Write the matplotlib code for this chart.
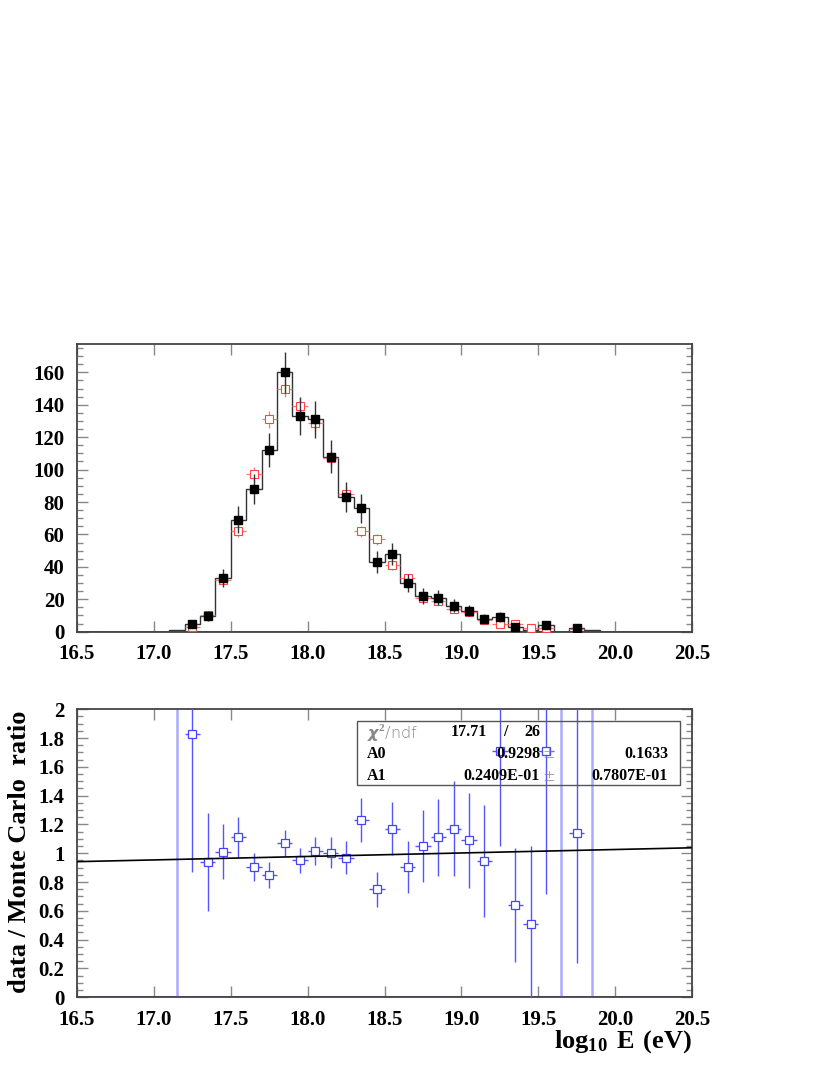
import numpy as np
import matplotlib
matplotlib.use('Agg')
import matplotlib.pyplot as plt
from matplotlib.ticker import MultipleLocator, FuncFormatter
from matplotlib.patches import Rectangle

plt.rcParams['font.family'] = ['Liberation Serif', 'DejaVu Serif']
plt.rcParams['font.weight'] = 'bold'
plt.rcParams['mathtext.fontset'] = 'custom'
plt.rcParams['mathtext.rm'] = 'Liberation Serif:bold'
plt.rcParams['mathtext.it'] = 'DejaVu Sans:italic'

# bins of log10 E, width 0.1, from 17.0 to 20.0
bin_edges = np.round(np.arange(17.0, 20.01, 0.1), 2)
bin_centers = np.round(bin_edges[:-1] + 0.05, 2)

# data (black) and Monte Carlo (red) counts
data_counts = [0, 1, 5, 9.5, 33, 69, 88, 112, 160, 133, 131, 108, 83, 76, 43,
               48, 30, 22, 21, 16, 13, 8, 9, 3, 1, 4, 0, 2, 1, 0]
data_err = [0, 1, 2.2, 3.1, 5.7, 8.3, 9.4, 10.6, 12.6, 11.5, 11.4, 10.4, 9.1,
            8.7, 6.6, 6.9, 5.5, 4.7, 4.6, 4.0, 3.6, 2.8, 3.0, 1.7, 1.0, 2.0,
            0, 1.4, 1.0, 0]
mc_counts = [0, 0.5, 3, 10, 32, 62, 97, 131, 150, 139, 129, 107, 85, 62, 57,
             41, 33, 21, 19, 14, 12, 7.5, 5, 4.5, 2.3, 2.5, 1, 1.5, 0.7, 0]
mc_err = [0, 0.3, 0.8, 1.4, 2.5, 3.5, 4.4, 5.1, 5.5, 5.3, 5.1, 4.6, 4.1, 3.5,
          3.4, 2.9, 2.6, 2.1, 2.0, 1.7, 1.6, 1.2, 1.0, 0.9, 0.7, 0.7, 0.4,
          0.5, 0.4, 0]

# data / Monte Carlo ratio
ratio_x = [17.25, 17.35, 17.45, 17.55, 17.65, 17.75, 17.85, 17.95, 18.05,
           18.15, 18.25, 18.35, 18.45, 18.55, 18.65, 18.75, 18.85, 18.95,
           19.05, 19.15, 19.25, 19.35, 19.45, 19.55, 19.75]
ratio_y = [1.83, 0.94, 1.01, 1.11, 0.905, 0.85, 1.07, 0.95, 1.015, 1.005,
           0.97, 1.23, 0.75, 1.17, 0.905, 1.05, 1.11, 1.17, 1.09, 0.945,
           1.71, 0.64, 0.51, 1.71, 1.14]
ratio_err = [0.96, 0.34, 0.19, 0.14, 0.10, 0.09, 0.09, 0.09, 0.095, 0.105,
             0.115, 0.155, 0.12, 0.185, 0.18, 0.25, 0.265, 0.33, 0.33, 0.39,
             0.66, 0.395, 0.54, 0.99, 0.9]
# bins where the ratio is off scale
ratio_off_x = [17.15, 19.65, 19.85]
ratio_off_y = [3.0, 3.0, 3.0]
ratio_off_err = [3.2, 3.2, 3.2]

fit_a0, fit_a1, fit_x0 = 0.9298, 0.02409, 16.0
chi2, ndf = 17.71, 26

fig = plt.figure(figsize=(8.3, 10.75), dpi=100)
ax1 = fig.add_axes([0.0928, 0.4124, 0.741, 0.2676])
ax2 = fig.add_axes([0.0928, 0.0723, 0.741, 0.2679])

# top panel
ax1.axhline(0, color='#dd2222', lw=1.3, zorder=1)
ax1.stairs(data_counts, bin_edges, color='#333333', lw=1.0, zorder=2)
mc = np.array(mc_counts, dtype=float)
mm = mc >= 1.5
ax1.errorbar(bin_centers[mm], mc[mm], yerr=np.array(mc_err)[mm], xerr=0.05,
             fmt='none', ecolor='#ff7777', elinewidth=0.9, capsize=0, zorder=3)
ax1.plot(bin_centers[mm], mc[mm], 's', mfc='white', mec='#ff4444', ms=5.5,
         mew=0.8, zorder=4)
dc = np.array(data_counts, dtype=float)
m = dc >= 1.5
ax1.errorbar(bin_centers[m], dc[m], yerr=np.array(data_err)[m], fmt='s',
             color='black', ms=5.5, ecolor='#333333', elinewidth=1.0,
             capsize=0, zorder=5)
ax1.set_xlim(16.5, 20.5)
ax1.set_ylim(0, 177.5)
ax1.yaxis.set_major_locator(MultipleLocator(20))
ax1.yaxis.set_minor_locator(MultipleLocator(5))

# bottom panel
ax2.axhline(0, color='#8888ff', lw=1.5, zorder=1)
ax2.errorbar(ratio_off_x, ratio_off_y, yerr=ratio_off_err, fmt='none',
             ecolor='#aaaaff', elinewidth=1.8, capsize=0, zorder=2)
ax2.errorbar(ratio_x, ratio_y, yerr=ratio_err, xerr=0.05, fmt='none',
             ecolor='#5555ff', elinewidth=1.0, capsize=0, zorder=3)
ax2.plot(ratio_x, ratio_y, 's', mfc='white', mec='#4444ff', ms=5.5, mew=0.9,
         zorder=4)
xf = np.linspace(16.5, 20.5, 50)
ax2.plot(xf, fit_a0 + fit_a1 * (xf - fit_x0), color='black', lw=1.2, zorder=5)
ax2.set_xlim(16.5, 20.5)
ax2.set_ylim(0, 2)
ax2.yaxis.set_major_locator(MultipleLocator(0.2))
ax2.yaxis.set_minor_locator(MultipleLocator(0.05))
ax2.yaxis.set_major_formatter(FuncFormatter(lambda v, p: '%g' % round(v, 2)))

for ax in (ax1, ax2):
    ax.xaxis.set_major_locator(MultipleLocator(0.5))
    ax.xaxis.set_major_formatter(FuncFormatter(lambda v, p: '%.1f' % v))
    ax.tick_params(which='both', direction='in', top=True, right=True,
                   color='#888888', labelsize=15)
    ax.tick_params(which='major', length=8, width=1.0)
    ax.tick_params(which='minor', length=4, width=1.0)
    ax.tick_params(axis='x', pad=9)
    ax.tick_params(axis='y', pad=9)
    for lab in ax.get_xticklabels() + ax.get_yticklabels():
        lab.set_fontweight('bold')
    for sp in ax.spines.values():
        sp.set_color('#444444')
        sp.set_linewidth(1.3)

# fit statistics box
ax2.add_patch(Rectangle((0.455, 0.737), 0.525, 0.222, transform=ax2.transAxes,
                        fill=False, ec='#555555', lw=1.0, zorder=6))
ax2.text(0.471, 0.921, r'$\chi^2$/ndf', transform=ax2.transAxes,
         family='DejaVu Sans', weight='light', color='#888888', fontsize=11.5,
         va='center', zorder=7)
ax2.text(0.666, 0.921, '%.2f' % chi2, transform=ax2.transAxes, ha='right',
         va='center', fontsize=11.5, weight='bold', zorder=7)
ax2.text(0.696, 0.921, '/', transform=ax2.transAxes, ha='center',
         va='center', fontsize=11.5, weight='bold', zorder=7)
ax2.text(0.753, 0.921, '%d' % ndf, transform=ax2.transAxes, ha='right',
         va='center', fontsize=11.5, weight='bold', zorder=7)
rows = [('A0', '0.9298', '0.1633', 0.845), ('A1', '0.2409E-01', '0.7807E-01', 0.768)]
for name, val, err, yy in rows:
    ax2.text(0.471, yy, name, transform=ax2.transAxes, va='center',
             fontsize=11.5, weight='bold', zorder=7)
    ax2.text(0.753, yy, val, transform=ax2.transAxes, ha='right',
             va='center', fontsize=11.5, weight='bold', zorder=7)
    ax2.text(0.767, yy, '\u00b1', transform=ax2.transAxes, ha='center',
             va='center', fontsize=11, color='#888888', weight='light',
             family='DejaVu Sans', zorder=7)
    ax2.text(0.961, yy, err, transform=ax2.transAxes, ha='right',
             va='center', fontsize=11.5, weight='bold', zorder=7)

fig.text(20 / 830, 1 - 852 / 1075, 'data / Monte Carlo  ratio', rotation=90,
         ha='center', va='center', fontsize=19, weight='bold')
ax2.text(1.0, -0.155, r'$\mathrm{log_{10}\ E\ (eV)}$', transform=ax2.transAxes,
         ha='right', va='center', fontsize=19)

fig.savefig('out.png', dpi=100, facecolor='white')
